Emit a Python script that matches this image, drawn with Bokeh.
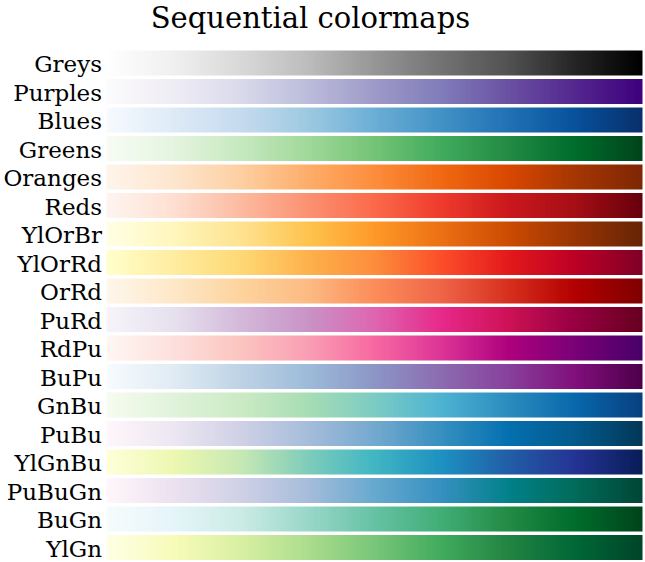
import numpy as np
from bokeh.plotting import figure
from bokeh.models import Range1d, LinearColorMapper
from bokeh.palettes import brewer, interp_palette
from bokeh.core.properties import value
from bokeh.embed import file_html
from bokeh.resources import INLINE

# colormap names, top to bottom
title = "Sequential colormaps"
cmap_names = ['Greys', 'Purples', 'Blues', 'Greens', 'Oranges', 'Reds',
              'YlOrBr', 'YlOrRd', 'OrRd', 'PuRd', 'RdPu', 'BuPu',
              'GnBu', 'PuBu', 'YlGnBu', 'PuBuGn', 'BuGn', 'YlGn']
n_classes = 9

gradient = np.linspace(0, 1, 256).reshape(1, -1)
rows = list(range(len(cmap_names)))

p = figure(width=645, height=562,
           x_range=Range1d(-0.1978, 1.0056), y_range=Range1d(17.526, -2.193),
           x_axis_location=None, y_axis_location=None,
           output_backend="svg", toolbar_location=None, min_border=0)
p.grid.visible = False
p.outline_line_color = None

bar_h = 0.877
for i, name in enumerate(cmap_names):
    colors = list(reversed(brewer[name][n_classes]))
    mapper = LinearColorMapper(palette=interp_palette(colors, 256), low=0, high=1)
    p.image(image=[gradient], x=0, y=i - bar_h / 2, dw=1, dh=bar_h, color_mapper=mapper)

# colormap names on the left
p.text(x=[-0.0084] * len(rows), y=[r + 0.05 for r in rows], text=cmap_names,
       text_align="right", text_baseline="middle",
       text_font=value("DejaVu Serif"), text_font_size="23px", text_color="black")

# title
p.text(x=[0.3804], y=[-1.579], text=[title], text_align="center",
       text_baseline="middle", text_font=value("DejaVu Serif"),
       text_font_size="29px", text_color="black")

open("out.html", "w").write(file_html(p, INLINE))
